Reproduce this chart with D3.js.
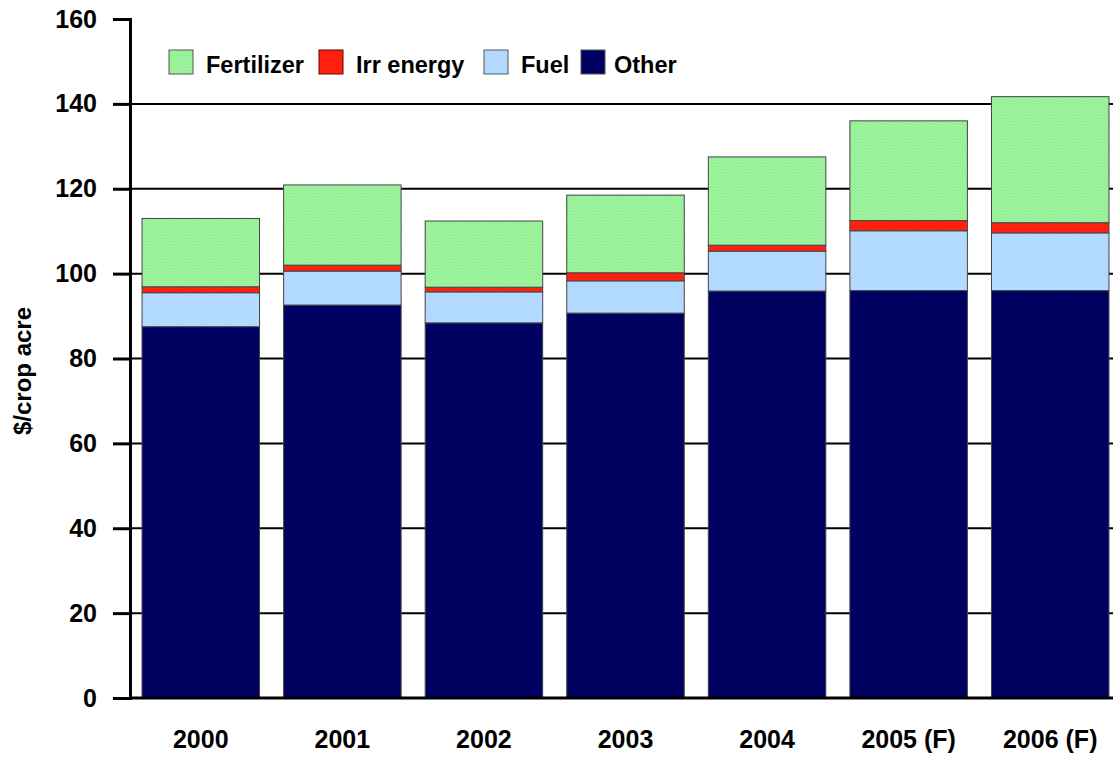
<!DOCTYPE html>
<html>
<head>
<meta charset="utf-8">
<script src="https://cdn.jsdelivr.net/npm/d3@7"></script>
<style>
  body { margin: 0; background: #fff; }
  text { font-family: "Liberation Sans", Arial, sans-serif; font-weight: bold; }
</style>
</head>
<body>
<div id="chart"></div>
<script>
// values ($/crop acre)
const years = ["2000", "2001", "2002", "2003", "2004", "2005 (F)", "2006 (F)"];
const other = [87.5, 92.6, 88.4, 90.7, 95.9, 96.0, 96.0];
const fuel = [8.0, 8.0, 7.3, 7.6, 9.4, 14.1, 13.6];
const irrEnergy = [1.4, 1.4, 1.1, 1.9, 1.4, 2.4, 2.4];
const fertilizer = [16.1, 18.9, 15.6, 18.3, 20.8, 23.5, 29.7];
const yTicks = [0, 20, 40, 60, 80, 100, 120, 140, 160];

const width = 1113, height = 757;
const margin = {top: 19, right: -8, bottom: 59, left: 130};

// stack order bottom -> top
const keys = ["Other", "Fuel", "Irr energy", "Fertilizer"];
const series = {"Other": other, "Fuel": fuel, "Irr energy": irrEnergy, "Fertilizer": fertilizer};
const legendKeys = ["Fertilizer", "Irr energy", "Fuel", "Other"];

let table = years.map((y, i) => {
    let row = {year: y};
    keys.forEach(k => row[k] = series[k][i]);
    return row;
});

const svg = d3.select("#chart").append("svg")
    .attr("width", width)
    .attr("height", height);

// hatch patterns
const defs = svg.append("defs");
function hatch(id, color) {
    let p = defs.append("pattern")
        .attr("id", id)
        .attr("patternUnits", "userSpaceOnUse")
        .attr("width", 3).attr("height", 3);
    p.append("rect").attr("width", 3).attr("height", 3).attr("fill", "#fff");
    p.append("path")
        .attr("d", "M-1,1 l2,-2 M0,3 l3,-3 M2,4 l2,-2")
        .attr("stroke", color)
        .attr("stroke-width", 1.6);
}
hatch("hatchGreen", "#80ee80");
hatch("hatchBlue", "#9fd0ff");

const fills = {
    "Fertilizer": "url(#hatchGreen)",
    "Irr energy": "#ff2010",
    "Fuel": "url(#hatchBlue)",
    "Other": "#000060"
};

const x = d3.scaleBand()
    .domain(years)
    .range([margin.left, width - margin.right])
    .paddingInner(0.17)
    .paddingOuter(0.085);

const y = d3.scaleLinear()
    .domain([0, 160])
    .range([height - margin.bottom, margin.top]);

// gridlines
svg.append("g")
    .selectAll("line")
    .data(yTicks.filter(d => d > 0 && d < 160))
    .join("line")
    .attr("x1", margin.left).attr("x2", width)
    .attr("y1", d => y(d)).attr("y2", d => y(d))
    .attr("stroke", "#000")
    .attr("stroke-width", 2);

// stacked bars
const stack = d3.stack().keys(keys)(table);
svg.append("g")
    .selectAll("g")
    .data(stack)
    .join("g")
    .attr("fill", d => fills[d.key])
    .selectAll("rect")
    .data(d => d)
    .join("rect")
    .attr("x", d => x(d.data.year))
    .attr("width", x.bandwidth())
    .attr("y", d => y(d[1]))
    .attr("height", d => y(d[0]) - y(d[1]))
    .attr("stroke", "#444")
    .attr("stroke-width", 1);

// y axis
const yAxis = svg.append("g")
    .attr("transform", "translate(" + margin.left + ",0)")
    .call(d3.axisLeft(y).tickValues(yTicks).tickSize(17).tickPadding(16));
yAxis.select(".domain").attr("stroke-width", 3);
yAxis.selectAll(".tick line").attr("stroke-width", 3);
yAxis.selectAll("text").style("font-size", "25px").attr("fill", "#000");

// x axis baseline
svg.append("line")
    .attr("x1", margin.left).attr("x2", width)
    .attr("y1", y(0)).attr("y2", y(0))
    .attr("stroke", "#000").attr("stroke-width", 3);

// x labels
svg.append("g")
    .selectAll("text")
    .data(years)
    .join("text")
    .attr("x", d => x(d) + x.bandwidth() / 2)
    .attr("y", 748)
    .attr("text-anchor", "middle")
    .style("font-size", "25px")
    .text(d => d);

// y title
svg.append("text")
    .attr("transform", "rotate(-90)")
    .attr("x", -371)
    .attr("y", 31)
    .attr("text-anchor", "middle")
    .style("font-size", "24px")
    .text("$/crop acre");

// legend
const legendX = [169, 319, 484, 581];
const legendTextX = [206, 356, 521, 614];
const legend = svg.append("g");
legendKeys.forEach((k, i) => {
    legend.append("rect")
        .attr("x", legendX[i]).attr("y", 50)
        .attr("width", 24).attr("height", 24)
        .attr("fill", fills[k])
        .attr("stroke", k === "Irr energy" ? "#600" : "#555").attr("stroke-width", 1);
    legend.append("text")
        .attr("x", legendTextX[i]).attr("y", 73)
        .style("font-size", "23.5px")
        .text(k);
});
</script>
</body>
</html>
